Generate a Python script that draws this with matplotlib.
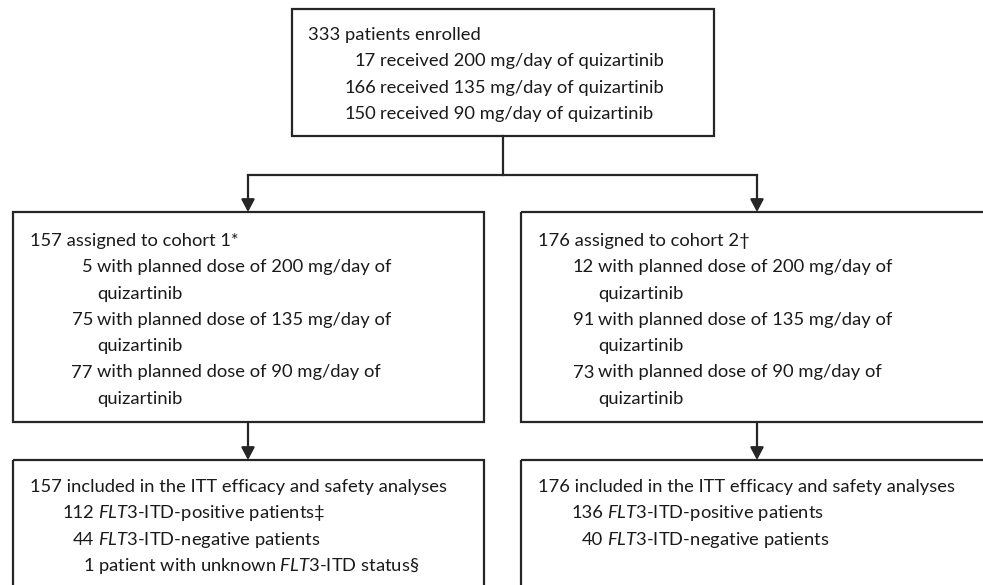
import matplotlib
matplotlib.use('Agg')
import matplotlib.pyplot as plt
from matplotlib.patches import Rectangle

plt.rcParams['font.family'] = ['Lato', 'DejaVu Sans']
plt.rcParams['mathtext.fontset'] = 'custom'
plt.rcParams['mathtext.rm'] = 'Lato'
plt.rcParams['mathtext.it'] = 'Lato:italic'

# counts
doses = [200, 135, 90]
n_enrolled = 333
n_received = [17, 166, 150]
cohorts = ['1*', '2\u2020']
n_cohort = [157, 176]
n_cohort_dose = [[5, 75, 77], [12, 91, 73]]
flt3_labels = [['$\\mathit{FLT}$3-ITD-positive patients\u2021',
                '$\\mathit{FLT}$3-ITD-negative patients',
                'patient with unknown $\\mathit{FLT}$3-ITD status\u00a7'],
               ['$\\mathit{FLT}$3-ITD-positive patients',
                '$\\mathit{FLT}$3-ITD-negative patients']]
n_flt3 = [[112, 44, 1], [136, 40]]

W, H = 983, 585
fig = plt.figure(figsize=(W / 100, H / 100), dpi=100)
ax = fig.add_axes([0, 0, 1, 1])
ax.set_xlim(0, W)
ax.set_ylim(H, 0)
ax.axis('off')

LC = '#262626'
LW = 1.6
FS = 13.2
STEP = 26.3


def box(x0, y0, x1, y1):
    ax.add_patch(Rectangle((x0, y0), x1 - x0, y1 - y0, fill=False,
                           edgecolor=LC, lw=LW, clip_on=False))


def arrow(x, y0, y1):
    ax.annotate('', xy=(x, y1), xytext=(x, y0),
                arrowprops=dict(arrowstyle='-|>,head_length=0.75,head_width=0.4',
                                color=LC, lw=LW, shrinkA=0, shrinkB=0))


def line(x, y, s, ha='left'):
    ax.text(x, y, s, fontsize=FS, ha=ha, va='baseline', color='#1a1a1a')


# boxes
box(292, 9, 714, 136)
box(13, 212, 484, 422)
box(521, 212, 1000, 422)
box(13, 460, 484, 600)
box(521, 460, 1000, 600)

# connectors
ax.plot([503, 503], [136, 175], color=LC, lw=LW)
ax.plot([248, 757], [175, 175], color=LC, lw=LW)
arrow(248, 175, 212)
arrow(757, 175, 212)
arrow(248, 422, 460)
arrow(757, 422, 460)

# top box
line(308, 40, f'{n_enrolled} patients enrolled')
for i, (n, d) in enumerate(zip(n_received, doses)):
    y = 40 + STEP * (i + 1)
    line(376, y, str(n), ha='right')
    line(380, y, f'received {d} mg/day of quizartinib')

# cohort boxes
for c, (x0, xt) in enumerate([(30, 97), (538, 598)]):
    line(x0, 246, f'{n_cohort[c]} assigned to cohort {cohorts[c]}')
    for i, (n, d) in enumerate(zip(n_cohort_dose[c], doses)):
        y = 246 + STEP * (2 * i + 1)
        line(xt - 4, y, str(n), ha='right')
        line(xt, y, f'with planned dose of {d} mg/day of')
        line(xt, y + STEP, 'quizartinib')

# analysis boxes
for c, (x0, xt) in enumerate([(30, 98), (538, 607)]):
    line(x0, 492, f'{n_cohort[c]} included in the ITT efficacy and safety analyses')
    for i, (n, s) in enumerate(zip(n_flt3[c], flt3_labels[c])):
        y = 492 + STEP * (i + 1)
        line(xt - 4, y, str(n), ha='right')
        line(xt, y, s)

fig.savefig('out.png', dpi=100)
